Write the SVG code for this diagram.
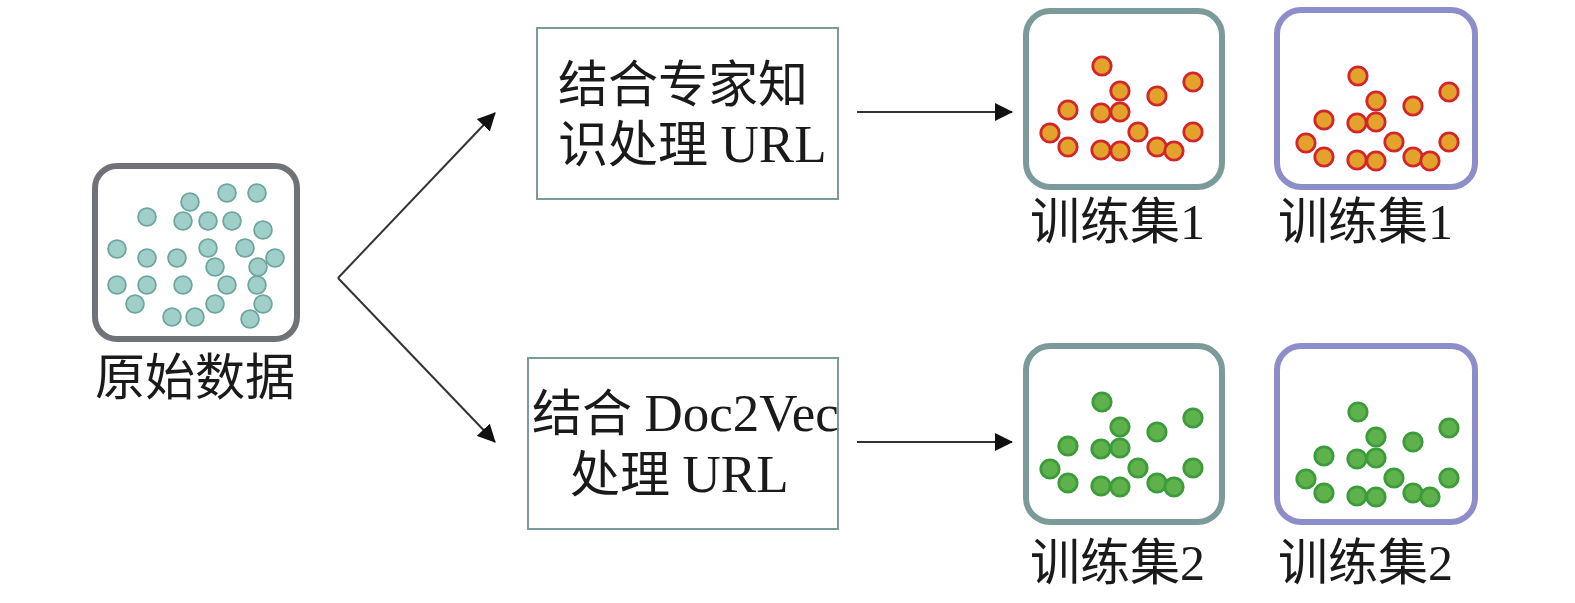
<svg xmlns="http://www.w3.org/2000/svg" xmlns:xlink="http://www.w3.org/1999/xlink" width="1575" height="603" viewBox="0 0 1575 603">
<style>
  text { font-family: "Liberation Serif", "Noto Sans CJK SC", serif; font-size: 50px; fill: #1a1a1a; }
  .lat { font-size: 53px; }
  .raw { fill: #fff; stroke: #6f7378; stroke-width: 6; }
  .teal { fill: #fff; stroke: #7c9a99; stroke-width: 6; }
  .purple { fill: #fff; stroke: #8d8dca; stroke-width: 6; }
  .tbox { fill: #fff; stroke: #7c9a99; stroke-width: 2; }
  .rawdot { fill: #9fcfc8; stroke: #6ea59e; stroke-width: 1.8; }
  .orange { fill: #e2a22c; stroke: #d3262a; stroke-width: 2.8; }
  .green { fill: #5fb24b; stroke: #3c9c3c; stroke-width: 2.8; }
  .conn { stroke: #333; stroke-width: 2; fill: none; marker-end: url(#ah); }
</style>
<defs>
  <marker id="ah" viewBox="0 0 18 18" refX="17" refY="9" markerWidth="18" markerHeight="18" markerUnits="userSpaceOnUse" orient="auto">
    <path d="M0,0 L18,9 L0,18 z" fill="#111"/>
  </marker>
  <g id="dots">
    <circle cx="1102" cy="66" r="9.2"/>
    <circle cx="1193" cy="82" r="9.2"/>
    <circle cx="1120" cy="91" r="9.2"/>
    <circle cx="1157" cy="96" r="9.2"/>
    <circle cx="1068" cy="110" r="9.2"/>
    <circle cx="1101" cy="113" r="9.2"/>
    <circle cx="1120" cy="112" r="9.2"/>
    <circle cx="1050" cy="133" r="9.2"/>
    <circle cx="1138" cy="132" r="9.2"/>
    <circle cx="1193" cy="132" r="9.2"/>
    <circle cx="1068" cy="147" r="9.2"/>
    <circle cx="1101" cy="150" r="9.2"/>
    <circle cx="1120" cy="151" r="9.2"/>
    <circle cx="1157" cy="147" r="9.2"/>
    <circle cx="1174" cy="151" r="9.2"/>
  </g>
</defs>
<rect width="1575" height="603" fill="#fff"/>

<g id="connectors">
  <path class="conn" d="M338,278 L495,113"/>
  <path class="conn" d="M338,278 L495,442"/>
  <path class="conn" d="M857,112 L1012,112"/>
  <path class="conn" d="M857,442 L1012,442"/>
</g>

<g id="raw-data">
  <rect class="raw" x="95" y="166" width="202" height="173" rx="22"/>
  <g class="rawdot">
    <circle cx="190" cy="202" r="8.9"/>
    <circle cx="227" cy="193" r="8.9"/>
    <circle cx="257" cy="193" r="8.9"/>
    <circle cx="147" cy="217" r="8.9"/>
    <circle cx="183" cy="221" r="8.9"/>
    <circle cx="208" cy="221" r="8.9"/>
    <circle cx="232" cy="221" r="8.9"/>
    <circle cx="263" cy="230" r="8.9"/>
    <circle cx="117" cy="249" r="8.9"/>
    <circle cx="147" cy="258" r="8.9"/>
    <circle cx="177" cy="258" r="8.9"/>
    <circle cx="208" cy="248" r="8.9"/>
    <circle cx="245" cy="248" r="8.9"/>
    <circle cx="215" cy="267" r="8.9"/>
    <circle cx="275" cy="258" r="8.9"/>
    <circle cx="258" cy="267" r="8.9"/>
    <circle cx="117" cy="285" r="8.9"/>
    <circle cx="147" cy="285" r="8.9"/>
    <circle cx="183" cy="285" r="8.9"/>
    <circle cx="227" cy="285" r="8.9"/>
    <circle cx="257" cy="285" r="8.9"/>
    <circle cx="135" cy="304" r="8.9"/>
    <circle cx="215" cy="304" r="8.9"/>
    <circle cx="263" cy="304" r="8.9"/>
    <circle cx="172" cy="317" r="8.9"/>
    <circle cx="195" cy="317" r="8.9"/>
    <circle cx="250" cy="319" r="8.9"/>
  </g>
  <text x="95" y="395">原始数据</text>
</g>

<g id="expert-box">
  <rect class="tbox" x="537" y="28" width="301" height="171"/>
  <text x="558" y="102">结合专家知</text>
  <text x="558" y="162">识处理 <tspan class="lat">URL</tspan></text>
</g>

<g id="doc2vec-box">
  <rect class="tbox" x="528" y="358" width="310" height="171"/>
  <text x="532" y="431">结合 <tspan class="lat">Doc2Vec</tspan></text>
  <text x="570" y="492">处理 <tspan class="lat">URL</tspan></text>
</g>

<g id="train1-a">
  <rect class="teal" x="1026" y="11" width="196" height="176" rx="24"/>
  <use xlink:href="#dots" class="orange"/>
  <text x="1030" y="239">训练集1</text>
</g>

<g id="train1-b">
  <rect class="purple" x="1277" y="10" width="198" height="177" rx="24"/>
  <use xlink:href="#dots" class="orange" transform="translate(256,10)"/>
  <text x="1278" y="239">训练集1</text>
</g>

<g id="train2-a">
  <rect class="teal" x="1026" y="346" width="196" height="176" rx="24"/>
  <use xlink:href="#dots" class="green" transform="translate(0,336)"/>
  <text x="1030" y="580">训练集2</text>
</g>

<g id="train2-b">
  <rect class="purple" x="1277" y="346" width="198" height="176" rx="24"/>
  <use xlink:href="#dots" class="green" transform="translate(256,346)"/>
  <text x="1278" y="580">训练集2</text>
</g>
</svg>
